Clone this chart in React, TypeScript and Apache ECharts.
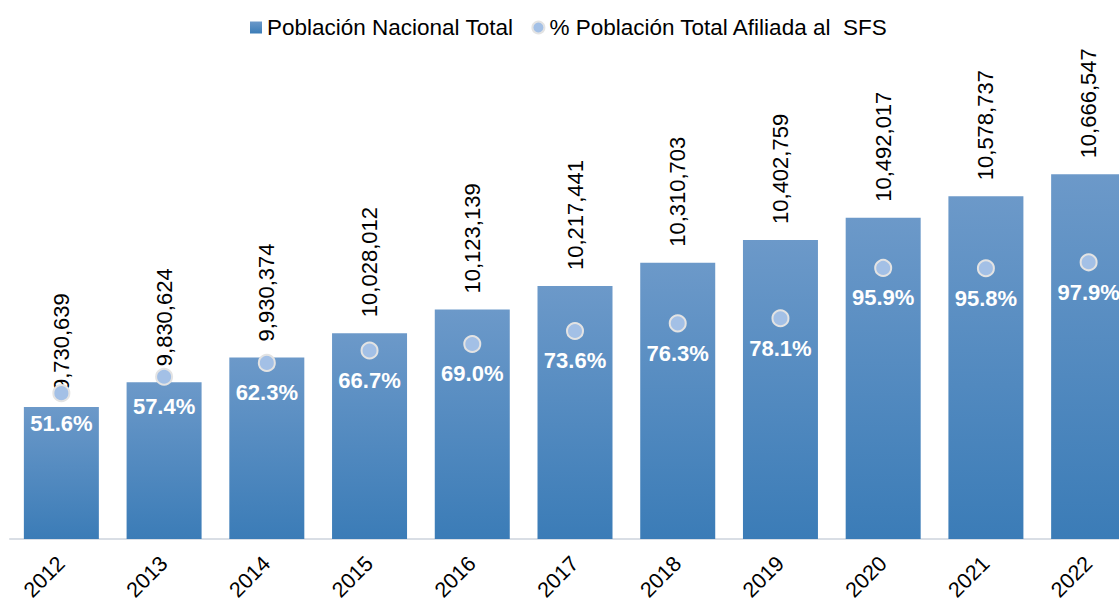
import React, { useEffect, useRef } from "react";
import * as echarts from "echarts";

const years = ["2012", "2013", "2014", "2015", "2016", "2017", "2018", "2019", "2020", "2021", "2022"];
const population = [9730639, 9830624, 9930374, 10028012, 10123139, 10217441, 10310703, 10402759, 10492017, 10578737, 10666547];
const affiliatedPct = [51.6, 57.4, 62.3, 66.7, 69.0, 73.6, 76.3, 78.1, 95.9, 95.8, 97.9];

export default function App() {
  const ref = useRef<HTMLDivElement>(null);
  useEffect(() => {
    document.body.style.margin = "0";
    document.body.style.overflow = "hidden";
    const chart = echarts.init(ref.current!, null, { renderer: "svg" });
    const font = "Arial, 'Liberation Sans', sans-serif";
    chart.setOption({
      animation: false,
      textStyle: { fontFamily: font },
      legend: {
        top: 11,
        left: 245,
        itemWidth: 12,
        itemHeight: 12,
        itemGap: 18,
        textStyle: { fontSize: 22.5, color: "#000", fontFamily: font },
        data: [
          { name: "Población Nacional Total", icon: "rect" },
          { name: "% Población Total Afiliada al  SFS", icon: "circle" },
        ],
      },
      grid: { left: 10, right: 0, top: 39, bottom: 64, containLabel: false, outerBoundsMode: "none" },
      xAxis: {
        type: "category",
        data: years,
        axisLine: { show: true, lineStyle: { color: "#d9dee5", width: 2 } },
        axisTick: { show: false },
        axisLabel: { rotate: 45, fontSize: 21.5, color: "#000", margin: 21, fontFamily: font, interval: 0 },
      },
      yAxis: [
        { type: "value", min: 9200000, max: 11211000, show: false, splitLine: { show: false } },
        { type: "value", min: 0, max: 176.9, show: false, splitLine: { show: false } },
      ],
      series: [
        {
          name: "Población Nacional Total",
          type: "bar",
          data: population,
          barWidth: 75,
          itemStyle: {
            color: new echarts.graphic.LinearGradient(0, 0, 0, 1, [
              { offset: 0, color: "#6c99c9" },
              { offset: 1, color: "#3b7cb7" },
            ]),
          },
          label: {
            show: true,
            position: "top",
            rotate: 90,
            align: "left",
            verticalAlign: "middle",
            distance: 16,
            fontSize: 22,
            color: "#000",
            fontFamily: font,
            formatter: (p: any) => Number(p.value).toLocaleString("en-US"),
          },
          z: 1,
        },
        {
          name: "% Población Total Afiliada al  SFS",
          type: "scatter",
          yAxisIndex: 1,
          data: affiliatedPct,
          symbol: "circle",
          symbolSize: 16,
          itemStyle: { color: "#a3c0e6", borderColor: "#e3e3e3", borderWidth: 2, opacity: 1 },
          label: {
            show: true,
            position: "bottom",
            distance: 10,
            fontSize: 22,
            fontWeight: "bold",
            color: "#fff",
            opacity: 1,
            fontFamily: font,
            formatter: (p: any) => Number(p.value).toFixed(1) + "%",
          },
          z: 3,
        },
      ],
    });
    return () => chart.dispose();
  }, []);
  return (
    <div style={{ width: 1119, height: 603, overflow: "hidden", position: "relative" }}>
      <div ref={ref} style={{ width: 1140, height: 603 }} />
    </div>
  );
}
